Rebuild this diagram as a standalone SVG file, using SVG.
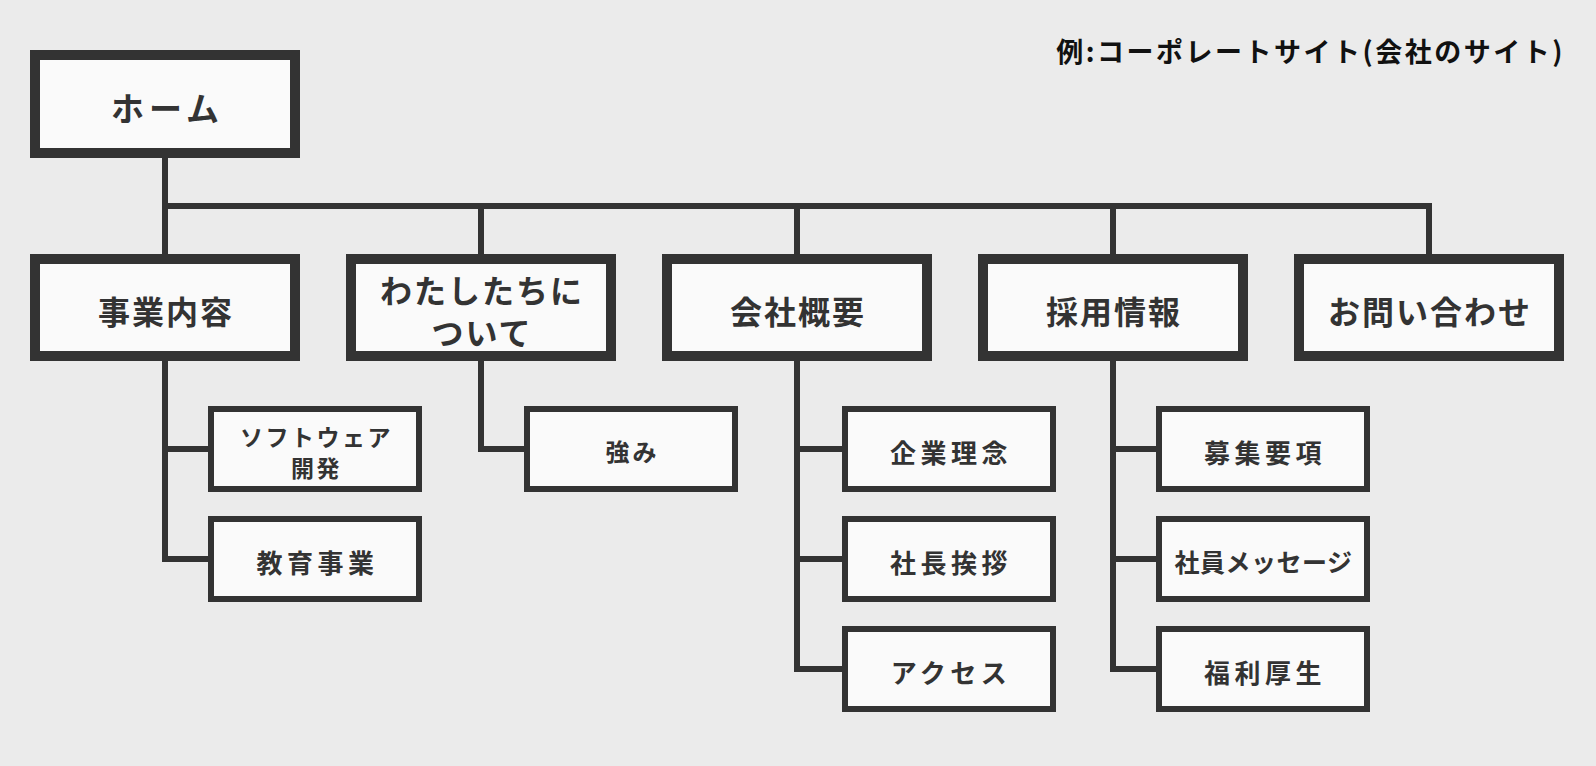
<svg xmlns="http://www.w3.org/2000/svg" width="1596" height="766" viewBox="0 0 1596 766">
<style>
.bg{fill:#ebebeb}
.top{fill:#fafafa;stroke:#333;stroke-width:10}
.child{fill:#fafafa;stroke:#333;stroke-width:6}
.conn{fill:none;stroke:#333;stroke-width:6;stroke-linejoin:miter;stroke-linecap:butt}
text{font-family:"Noto Sans CJK JP","Noto Sans CJK SC",sans-serif;font-weight:700;fill:#333;text-anchor:middle;dominant-baseline:central}
.tl{font-size:32px;letter-spacing:2px}
.home{font-size:33px;letter-spacing:5px}
.cl{font-size:26px;letter-spacing:4.5px}
.title{font-size:27px;letter-spacing:2.5px;fill:#111;text-anchor:end}
</style>
<rect class="bg" x="0" y="0" width="1596" height="766"/>
<text class="title" x="1565" y="50.5">例:コーポレートサイト(会社のサイト)</text>
<g id="connectors">
<path class="conn" d="M165,158 V254"/>
<path class="conn" d="M165,206 H1429 V254"/>
<path class="conn" d="M481,206 V254"/>
<path class="conn" d="M797,206 V254"/>
<path class="conn" d="M1113,206 V254"/>
<path class="conn" d="M165,361 V559 H208"/>
<path class="conn" d="M165,449 H208"/>
<path class="conn" d="M481,361 V449 H524"/>
<path class="conn" d="M797,361 V669 H842"/>
<path class="conn" d="M797,449 H842"/>
<path class="conn" d="M797,559 H842"/>
<path class="conn" d="M1113,361 V669 H1156"/>
<path class="conn" d="M1113,449 H1156"/>
<path class="conn" d="M1113,559 H1156"/>
</g>
<g id="home"><rect class="top" x="35" y="55" width="260" height="98"/><text class="home" x="167.5" y="106.5">ホーム</text></g>
<g id="jigyo"><rect class="top" x="35" y="259" width="260" height="97"/><text class="tl" x="166" y="310">事業内容</text></g>
<g id="watashitachi"><rect class="top" x="351" y="259" width="260" height="97"/><text class="tl" x="482" y="288.5">わたしたちに</text><text class="tl" x="482" y="330.5">ついて</text></g>
<g id="kaisha"><rect class="top" x="667" y="259" width="260" height="97"/><text class="tl" x="798" y="310">会社概要</text></g>
<g id="saiyo"><rect class="top" x="983" y="259" width="260" height="97"/><text class="tl" x="1114" y="310">採用情報</text></g>
<g id="toiawase"><rect class="top" x="1299" y="259" width="260" height="97"/><text class="tl" x="1430" y="310">お問い合わせ</text></g>
<g id="software"><rect class="child" x="211" y="409" width="208" height="80"/><text style="font-size:23px;letter-spacing:2.5px" x="316.5" y="435.5">ソフトウェア</text><text style="font-size:23px;letter-spacing:2.5px" x="316.5" y="467">開発</text></g>
<g id="kyoiku"><rect class="child" x="211" y="519" width="208" height="80"/><text class="cl" x="317.5" y="561">教育事業</text></g>
<g id="tsuyomi"><rect class="child" x="527" y="409" width="208" height="80"/><text style="font-size:24px;letter-spacing:3px" x="632.5" y="450">強み</text></g>
<g id="kigyorinen"><rect class="child" x="845" y="409" width="208" height="80"/><text class="cl" x="951" y="451">企業理念</text></g>
<g id="shacho"><rect class="child" x="845" y="519" width="208" height="80"/><text class="cl" x="951" y="561">社長挨拶</text></g>
<g id="access"><rect class="child" x="845" y="629" width="208" height="80"/><text class="cl" x="951" y="671">アクセス</text></g>
<g id="boshu"><rect class="child" x="1159" y="409" width="208" height="80"/><text class="cl" x="1265" y="451">募集要項</text></g>
<g id="shain"><rect class="child" x="1159" y="519" width="208" height="80"/><text style="font-size:25px;letter-spacing:0.5px" x="1263.5" y="561">社員メッセージ</text></g>
<g id="fukuri"><rect class="child" x="1159" y="629" width="208" height="80"/><text class="cl" x="1265" y="671">福利厚生</text></g>
</svg>
